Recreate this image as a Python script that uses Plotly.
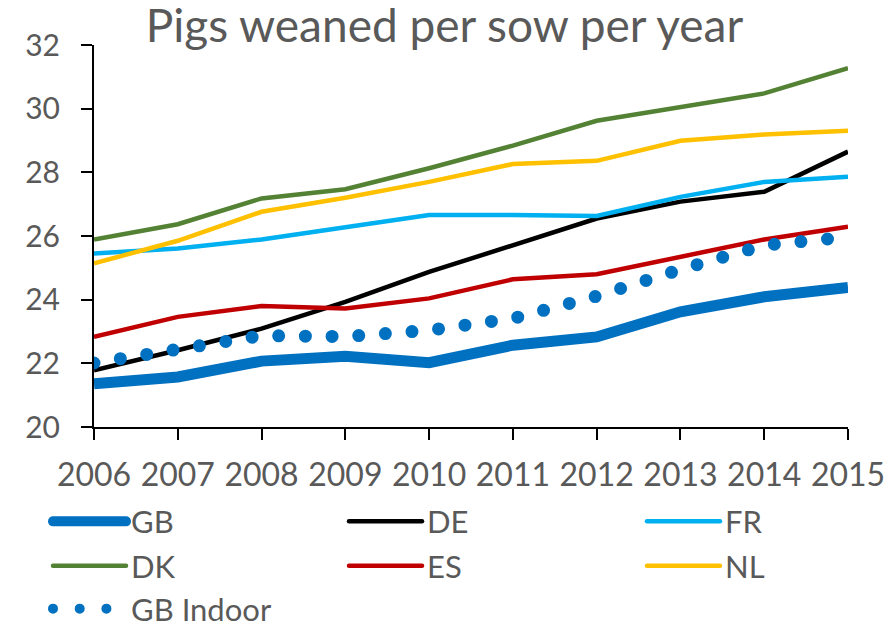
import plotly.graph_objects as go

years = [2006, 2007, 2008, 2009, 2010, 2011, 2012, 2013, 2014, 2015]
gb = [21.36, 21.57, 22.07, 22.22, 22.02, 22.57, 22.83, 23.62, 24.09, 24.38]
de = [21.78, 22.41, 23.09, 23.93, 24.87, 25.71, 26.55, 27.08, 27.39, 28.65]
fr = [25.45, 25.61, 25.89, 26.29, 26.66, 26.66, 26.63, 27.23, 27.70, 27.86]
dk = [25.89, 26.37, 27.18, 27.47, 28.13, 28.84, 29.62, 30.04, 30.48, 31.27]
es = [22.83, 23.46, 23.80, 23.72, 24.04, 24.64, 24.80, 25.35, 25.89, 26.29]
nl = [25.14, 25.85, 26.76, 27.20, 27.70, 28.26, 28.36, 28.99, 29.19, 29.31]
gb_indoor = [22.01, 22.41, 22.87, 22.84, 23.04, 23.41, 24.11, 24.95, 25.71, 25.97]
y_ticks = [20, 22, 24, 26, 28, 30, 32]

TEXT = "#595959"
FONT = "Lato, sans-serif"

# legend grid: three columns, three rows (paper coordinates)
col_x = [-0.061, 0.3316, 0.7268]
row_y = [-94.7 / 382, -139 / 382, -182 / 382]

# name, values, colour, width, dash, (row, column) of its legend entry
series = [
    ("GB", gb, "#0070C0", 11, "solid", (0, 0)),
    ("DE", de, "#000000", 4.5, "solid", (0, 1)),
    ("FR", fr, "#00B0F0", 4.5, "solid", (0, 2)),
    ("DK", dk, "#548235", 4.5, "solid", (1, 0)),
    ("ES", es, "#C00000", 4.5, "solid", (1, 1)),
    ("NL", nl, "#FFC000", 4.5, "solid", (1, 2)),
    ("GB Indoor", gb_indoor, "#0070C0", 13, "0px,26.7px", (2, 0)),
]

fig = go.Figure()
legends = {}
for i, (name, vals, color, width, dash, (r, c)) in enumerate(series):
    key = "legend" if i == 0 else f"legend{i + 1}"
    fig.add_trace(go.Scatter(
        x=years, y=vals, name=name, mode="lines",
        line=dict(color=color, width=width, dash=dash),
        legend=key, cliponaxis=False, showlegend=True,
    ))
    legends[key] = dict(
        x=col_x[c], y=row_y[r],
        orientation="h", xanchor="left", yanchor="middle",
        font=dict(family=FONT, size=31, color=TEXT),
        itemwidth=73,
        bgcolor="rgba(0,0,0,0)", borderwidth=0,
    )

fig.update_layout(
    width=889, height=626, showlegend=True,
    margin=dict(l=94, r=41, t=45, b=199, autoexpand=False),
    paper_bgcolor="white", plot_bgcolor="white",
    title=dict(
        text="Pigs weaned per sow per year",
        x=0.5, xanchor="center", y=1 - 26 / 626, yanchor="middle",
        font=dict(family=FONT, size=46, color=TEXT),
    ),
    xaxis=dict(
        range=[2006, 2015], tickvals=years, ticktext=[str(y) for y in years],
        showgrid=False, zeroline=False, automargin=False,
        showline=True, linecolor="black", linewidth=2,
        ticks="outside", ticklen=11, tickwidth=2, tickcolor="black",
        tickfont=dict(family=FONT, size=32, color=TEXT),
        ticklabelstandoff=8,
    ),
    yaxis=dict(
        range=[20, 32], tickvals=y_ticks,
        showgrid=False, zeroline=False, automargin=False,
        showline=True, linecolor="black", linewidth=2,
        ticks="outside", ticklen=11, tickwidth=2, tickcolor="black",
        tickfont=dict(family=FONT, size=30, color=TEXT),
        ticklabelstandoff=15,
    ),
    **legends,
)

# round caps: zero-length dashes become dots, legend swatches get rounded ends
post = """
function roundCaps() {
  document.querySelectorAll('path').forEach(function (p) {
    var d = p.style.strokeDasharray || '';
    if (d.indexOf('0px') === 0) { p.style.strokeLinecap = 'round'; }
  });
  document.querySelectorAll('g.legendlines path').forEach(function (p) {
    p.style.strokeLinecap = 'round';
  });
}
roundCaps();
setTimeout(roundCaps, 100);
setTimeout(roundCaps, 500);
"""

fig.write_html("out.html", post_script=post)
